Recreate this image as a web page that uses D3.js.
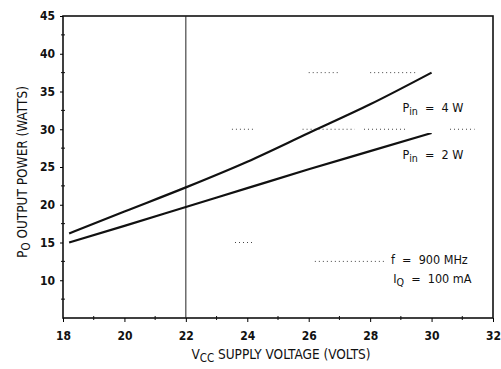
<!DOCTYPE html>
<html>
<head>
<meta charset="utf-8">
<script src="https://cdn.jsdelivr.net/npm/d3@7"></script>
<style>
  body { margin: 0; background: #fff; }
  svg text { font-family: "DejaVu Sans Condensed", "Liberation Sans Narrow", Arial, sans-serif; fill: #111; white-space: pre; }
</style>
</head>
<body>
<div id="chart"></div>
<script>
// supply voltage (V) samples along each curve
const vccPts = [18.2, 20, 22, 24, 26, 28, 30];
const pout4W = [16.2, 19.1, 22.3, 25.7, 29.5, 33.3, 37.5];
const pout2W = [15.0, 17.2, 19.7, 22.2, 24.7, 27.1, 29.5];
const xTicks = [18, 20, 22, 24, 26, 28, 30, 32];
const yTicks = [10, 15, 20, 25, 30, 35, 40, 45];
// leftover dotted grid fragments of the scanned sheet: [x1, x2, y]
const gridDots = [
  [23.5, 24.2, 30], [25.8, 27.5, 30], [27.8, 29.2, 30], [30.6, 31.4, 30],
  [26, 27, 37.5], [28, 29.5, 37.5], [23.6, 24.2, 15], [26.2, 28.45, 12.5]
];

const W = 501, H = 369;
const margin = { top: 16, right: 8, bottom: 51, left: 63 };
const width = W - margin.left - margin.right;
const height = H - margin.top - margin.bottom;

const svg = d3.select("#chart").append("svg")
  .attr("width", W).attr("height", H);
const g = svg.append("g").attr("transform", `translate(${margin.left},${margin.top})`);

const x = d3.scaleLinear().domain([18, 32]).range([0, width]);
const y = d3.scaleLinear().domain([5, 45]).range([height, 0]);

// frame
g.append("rect").attr("width", width).attr("height", height)
  .attr("fill", "none").attr("stroke", "#111").attr("stroke-width", 1.6);

// vertical line at 22 V
g.append("line").attr("x1", x(22)).attr("x2", x(22)).attr("y1", 0).attr("y2", height)
  .attr("stroke", "#222").attr("stroke-width", 1);

// faint dotted fragments
g.selectAll(".dots").data(gridDots).enter().append("line")
  .attr("x1", d => x(d[0])).attr("x2", d => x(d[1]))
  .attr("y1", d => y(d[2])).attr("y2", d => y(d[2]))
  .attr("stroke", "#444").attr("stroke-width", 1).attr("stroke-dasharray", "1,3");

// bottom axis
const xAxis = g.append("g").attr("transform", `translate(0,${height})`)
  .call(d3.axisBottom(x).tickValues(xTicks).tickSize(4).tickPadding(9));
xAxis.select(".domain").remove();
xAxis.selectAll("text").attr("font-size", 12).attr("font-weight", "bold");
// minor x ticks
g.selectAll(".xminor").data(d3.range(19, 32, 2)).enter().append("line")
  .attr("x1", d => x(d)).attr("x2", d => x(d)).attr("y1", height - 2).attr("y2", height + 2)
  .attr("stroke", "#111");

// left axis
const yAxis = g.append("g")
  .call(d3.axisLeft(y).tickValues(yTicks).tickSize(3).tickPadding(5));
yAxis.select(".domain").remove();
yAxis.selectAll("text").attr("font-size", 12).attr("font-weight", "bold");
g.selectAll(".yminor").data(d3.range(7.5, 45, 5)).enter().append("line")
  .attr("x1", -2).attr("x2", 2).attr("y1", d => y(d)).attr("y2", d => y(d))
  .attr("stroke", "#111");

// curves
const line = d3.line().x((d, i) => x(vccPts[i])).y(d => y(d)).curve(d3.curveMonotoneX);
[pout4W, pout2W].forEach(s => {
  g.append("path").datum(s).attr("d", line)
    .attr("fill", "none").attr("stroke", "#111").attr("stroke-width", 2.2);
});

// labels
function sub(t, main, subTxt, rest) {
  t.append("tspan").text(main);
  t.append("tspan").attr("font-size", "0.85em").attr("dy", 3).text(subTxt);
  t.append("tspan").attr("dy", -3).text(rest);
}
sub(g.append("text").attr("x", x(29.05)).attr("y", y(32.3)).attr("font-size", 12.5),
  "P", "in", "  =  4 W");
sub(g.append("text").attr("x", x(29.05)).attr("y", y(26)).attr("font-size", 12.5),
  "P", "in", "  =  2 W");
g.append("text").attr("x", x(28.68)).attr("y", y(12.2)).attr("font-size", 12.5)
  .text("f  =  900 MHz");
sub(g.append("text").attr("x", x(28.75)).attr("y", y(9.6)).attr("font-size", 12.5),
  "I", "Q", "  =  100 mA");

// axis titles
const xt = svg.append("text").attr("x", 281).attr("y", 359)
  .attr("text-anchor", "middle").attr("font-size", 13.5);
sub(xt, "V", "CC", " SUPPLY VOLTAGE (VOLTS)");

const yt = svg.append("text").attr("transform", "translate(27,172) rotate(-90)")
  .attr("text-anchor", "middle").attr("font-size", 13.5);
sub(yt, "P", "O", " OUTPUT POWER (WATTS)");
</script>
</body>
</html>
